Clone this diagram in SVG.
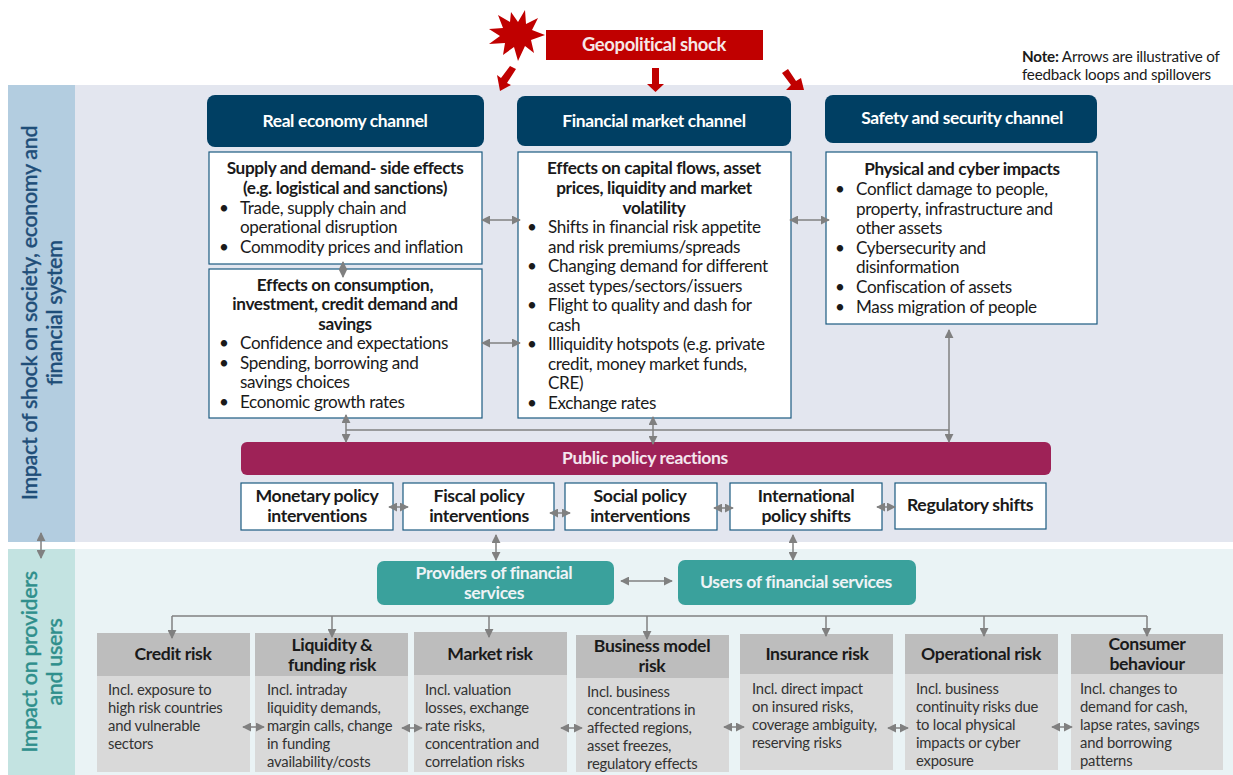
<svg xmlns="http://www.w3.org/2000/svg" width="1233" height="775" viewBox="0 0 1233 775">
<style>
text{font-family:Lato,"Open Sans","Liberation Sans",sans-serif;fill:#1a1a1a;letter-spacing:-.35px}
.c{text-anchor:middle}
.h{font-size:17.4px;font-weight:700;fill:#fff}
.tw{font-size:17.6px;font-weight:700;fill:#eef3f6;text-anchor:middle}
.b{font-size:17.2px;font-weight:700;text-anchor:middle;transform:translateY(.8px)}
.t{font-size:17.1px;transform:translateY(.8px)}
.r{font-size:14.8px;fill:#333;letter-spacing:-.2px}
.rh{font-size:17.6px;font-weight:700;text-anchor:middle}
.pb{font-size:17.7px;font-weight:700;text-anchor:middle}
.n{font-size:15.2px;letter-spacing:-.2px}
.sd{font-size:21.5px;font-weight:500;text-anchor:middle;stroke-width:.35}
.box{fill:#fff;stroke:#1c5b80;stroke-width:1.2}
.ch{fill:#003f63}
.te{fill:#3aa19c}
.hd{fill:#bdbdbd}
.bd{fill:#d9d9d9}
.cn{fill:none;stroke:#808080;stroke-width:1.5}
.dbl{marker-start:url(#ah);marker-end:url(#ah)}
.one{marker-end:url(#ah)}
</style>
<defs>
<marker id="ah" viewBox="0 0 10 10" refX="9" refY="5" markerWidth="6" markerHeight="6" orient="auto-start-reverse"><path d="M0 0L10 5L0 10z" fill="#808080"/></marker>
</defs>
<g id="backgrounds">
<rect x="8" y="85" width="67" height="457" fill="#b3cde0"/>
<rect x="75" y="85" width="1158" height="457" fill="#e3e6ef"/>
<rect x="8" y="549" width="67" height="226" fill="#c3e3e1"/>
<rect x="75" y="549" width="1158" height="226" fill="#eaf3f5"/>
<text transform="translate(37,313) rotate(-90)" class="sd" style="fill:#1f4e79;stroke:#1f4e79">Impact of shock on society, economy and</text>
<text transform="translate(62,313) rotate(-90)" class="sd" style="fill:#1f4e79;stroke:#1f4e79">financial system</text>
<text transform="translate(37,662) rotate(-90)" class="sd" style="fill:#2f8f8c;stroke:#2f8f8c">Impact on providers</text>
<text transform="translate(62,662) rotate(-90)" class="sd" style="fill:#2f8f8c;stroke:#2f8f8c">and users</text>
</g>
<g id="shock">
<path d="M525 10L526 24L538 18L532 30L545 35L531 40L534 53L525 46L518 61L514 47L503 55L505 43L489 44L500 36L489 29L503 28L498 15L510 22L511 12L518 22z" fill="#c00000"/>
<rect x="546" y="30" width="217" height="30" fill="#c00000"/>
<text x="654" y="50.500" class="c" style="font-size:18.4px;font-weight:700;fill:#f6e6e6">Geopolitical shock</text>
</g>
<g id="shock-arrows" fill="#c00000">
<path d="M516 69L507 83L511 85L500 91L497 75L501 78L510 66z"/>
<path d="M652 68H659V84H664L655.500 92L647 84H652z"/>
<path d="M788 69L796 81L801 78L804 90L786 90L791 85L782 73z"/>
</g>
<g id="note"><text x="1022" y="62" class="n"><tspan font-weight="700">Note:</tspan> Arrows are illustrative of</text><text x="1022" y="80" class="n">feedback loops and spillovers</text></g>
<g id="real-economy-channel"><rect class="ch" x="207" y="95" width="277" height="52" rx="8"/><text x="345" y="126.500" class="c h">Real economy channel</text></g>
<g id="financial-market-channel"><rect class="ch" x="517" y="96" width="274" height="50" rx="8"/><text x="654" y="126.500" class="c h">Financial market channel</text></g>
<g id="safety-security-channel"><rect class="ch" x="825" y="95" width="272" height="48" rx="8"/><text x="962" y="124" class="c h">Safety and security channel</text></g>
<g id="supply-demand">
<rect class="box" x="209" y="152" width="273" height="112"/>
<text x="345" y="173" class="b">Supply and demand- side effects</text>
<text x="345" y="193" class="b">(e.g. logistical and sanctions)</text>
<text x="219" y="213" class="t">•</text><text x="240" y="213" class="t">Trade, supply chain and</text>
<text x="240" y="232" class="t">operational disruption</text>
<text x="219" y="252" class="t">•</text><text x="240" y="252" class="t">Commodity prices and inflation</text>
</g>
<g id="consumption-investment">
<rect class="box" x="209" y="269" width="273" height="149"/>
<text x="345" y="290" class="b">Effects on consumption,</text>
<text x="345" y="309" class="b">investment, credit demand and</text>
<text x="345" y="329" class="b">savings</text>
<text x="219" y="348" class="t">•</text><text x="240" y="348" class="t">Confidence and expectations</text>
<text x="219" y="368" class="t">•</text><text x="240" y="368" class="t">Spending, borrowing and</text>
<text x="240" y="387" class="t">savings choices</text>
<text x="219" y="407" class="t">•</text><text x="240" y="407" class="t">Economic growth rates</text>
</g>
<g id="capital-flows">
<rect class="box" x="518" y="152" width="273" height="266"/>
<text x="654" y="173" class="b">Effects on capital flows, asset</text>
<text x="654" y="193" class="b">prices, liquidity and market</text>
<text x="654" y="213" class="b">volatility</text>
<text x="527" y="232" class="t">•</text><text x="548" y="232" class="t">Shifts in financial risk appetite</text>
<text x="548" y="252" class="t">and risk premiums/spreads</text>
<text x="527" y="271" class="t">•</text><text x="548" y="271" class="t">Changing demand for different</text>
<text x="548" y="291" class="t">asset types/sectors/issuers</text>
<text x="527" y="310" class="t">•</text><text x="548" y="310" class="t">Flight to quality and dash for</text>
<text x="548" y="330" class="t">cash</text>
<text x="527" y="349" class="t">•</text><text x="548" y="349" class="t">Illiquidity hotspots (e.g. private</text>
<text x="548" y="369" class="t">credit, money market funds,</text>
<text x="548" y="388" class="t">CRE)</text>
<text x="527" y="408" class="t">•</text><text x="548" y="408" class="t">Exchange rates</text>
</g>
<g id="physical-cyber">
<rect class="box" x="826" y="152" width="271" height="172"/>
<text x="962" y="174" class="b">Physical and cyber impacts</text>
<text x="835" y="194" class="t">•</text><text x="856" y="194" class="t">Conflict damage to people,</text>
<text x="856" y="214" class="t">property, infrastructure and</text>
<text x="856" y="233" class="t">other assets</text>
<text x="835" y="253" class="t">•</text><text x="856" y="253" class="t">Cybersecurity and</text>
<text x="856" y="272" class="t">disinformation</text>
<text x="835" y="292" class="t">•</text><text x="856" y="292" class="t">Confiscation of assets</text>
<text x="835" y="312" class="t">•</text><text x="856" y="312" class="t">Mass migration of people</text>
</g>
<g id="public-policy"><rect x="241" y="442" width="810" height="33" rx="6" fill="#9e2257"/><text x="645" y="464" class="c" style="font-size:17.500px;font-weight:700;fill:#f4e6ee">Public policy reactions</text></g>
<g id="monetary"><rect class="box" x="241" y="483" width="152" height="47"/><text x="317" y="502" class="pb">Monetary policy</text><text x="317" y="522" class="pb">interventions</text></g>
<g id="fiscal"><rect class="box" x="403" y="483" width="151" height="47"/><text x="479" y="502" class="pb">Fiscal policy</text><text x="479" y="522" class="pb">interventions</text></g>
<g id="social"><rect class="box" x="565" y="483" width="152" height="47"/><text x="640" y="502" class="pb">Social policy</text><text x="640" y="522" class="pb">interventions</text></g>
<g id="international"><rect class="box" x="730" y="483" width="152" height="47"/><text x="806" y="502" class="pb">International</text><text x="806" y="522" class="pb">policy shifts</text></g>
<g id="regulatory"><rect class="box" x="895" y="483" width="151" height="46"/><text x="970" y="511" class="pb">Regulatory shifts</text></g>
<g id="providers"><rect class="te" x="377" y="561" width="237" height="44" rx="7"/><text x="494" y="579" class="tw">Providers of financial</text><text x="494" y="599" class="tw">services</text></g>
<g id="users"><rect class="te" x="678" y="560" width="238" height="45" rx="7"/><text x="796" y="588" class="tw">Users of financial services</text></g>
<g id="credit-risk"><rect class="hd" x="97" y="633" width="153" height="43"/><rect class="bd" x="97" y="676" width="153" height="96"/><text x="173" y="660" class="rh">Credit risk</text>
<text x="108" y="695" class="r">Incl. exposure to</text><text x="108" y="713" class="r">high risk countries</text><text x="108" y="731" class="r">and vulnerable</text><text x="108" y="749" class="r">sectors</text></g>
<g id="liquidity-risk"><rect class="hd" x="255" y="633" width="153" height="43"/><rect class="bd" x="255" y="676" width="153" height="96"/><text x="332" y="651" class="rh">Liquidity &amp;</text><text x="332" y="671" class="rh">funding risk</text>
<text x="267" y="695" class="r">Incl. intraday</text><text x="267" y="713" class="r">liquidity demands,</text><text x="267" y="731" class="r">margin calls, change</text><text x="267" y="749" class="r">in funding</text><text x="267" y="767" class="r">availability/costs</text></g>
<g id="market-risk"><rect class="hd" x="414" y="632" width="153" height="43"/><rect class="bd" x="414" y="675" width="153" height="97"/><text x="490" y="660" class="rh">Market risk</text>
<text x="425" y="695" class="r">Incl. valuation</text><text x="425" y="713" class="r">losses, exchange</text><text x="425" y="731" class="r">rate risks,</text><text x="425" y="749" class="r">concentration and</text><text x="425" y="767" class="r">correlation risks</text></g>
<g id="business-model-risk"><rect class="hd" x="576" y="635" width="153" height="43"/><rect class="bd" x="576" y="678" width="153" height="94"/><text x="652" y="652" class="rh">Business model</text><text x="652" y="672" class="rh">risk</text>
<text x="587" y="697" class="r">Incl. business</text><text x="587" y="715" class="r">concentrations in</text><text x="587" y="733" class="r">affected regions,</text><text x="587" y="751" class="r">asset freezes,</text><text x="587" y="769" class="r">regulatory effects</text></g>
<g id="insurance-risk"><rect class="hd" x="740" y="634" width="153" height="40"/><rect class="bd" x="740" y="674" width="153" height="96"/><text x="817" y="660" class="rh">Insurance risk</text>
<text x="752" y="694" class="r">Incl. direct impact</text><text x="752" y="712" class="r">on insured risks,</text><text x="752" y="730" class="r">coverage ambiguity,</text><text x="752" y="748" class="r">reserving risks</text></g>
<g id="operational-risk"><rect class="hd" x="905" y="634" width="153" height="40"/><rect class="bd" x="905" y="674" width="153" height="96"/><text x="981" y="660" class="rh">Operational risk</text>
<text x="916" y="694" class="r">Incl. business</text><text x="916" y="712" class="r">continuity risks due</text><text x="916" y="730" class="r">to local physical</text><text x="916" y="748" class="r">impacts or cyber</text><text x="916" y="766" class="r">exposure</text></g>
<g id="consumer-behaviour"><rect class="hd" x="1071" y="634" width="152" height="40"/><rect class="bd" x="1071" y="674" width="152" height="96"/><text x="1147" y="650" class="rh">Consumer</text><text x="1147" y="670" class="rh">behaviour</text>
<text x="1080" y="694" class="r">Incl. changes to</text><text x="1080" y="712" class="r">demand for cash,</text><text x="1080" y="730" class="r">lapse rates, savings</text><text x="1080" y="748" class="r">and borrowing</text><text x="1080" y="766" class="r">patterns</text></g>
<g id="connectors">
<path class="cn dbl" d="M482 220H520"/><path class="cn dbl" d="M482 343H520"/><path class="cn dbl" d="M790 220H829"/><path class="cn dbl" d="M343 262V277"/>
<path class="cn dbl" d="M346 415V442"/><path class="cn dbl" d="M653 417V444"/><path class="cn dbl" d="M949 330V442"/><path class="cn" d="M346 430H949"/>
<path class="cn dbl" d="M389 507H408"/><path class="cn dbl" d="M550 513H570"/><path class="cn dbl" d="M714 508H733"/><path class="cn dbl" d="M877 507H895"/>
<path class="cn dbl" d="M496 535V560"/><path class="cn dbl" d="M793 535V560"/><path class="cn dbl" d="M621 581H672"/><path class="cn dbl" d="M41 533V558"/>
<path class="cn" d="M172 616H1147"/>
<path class="cn one" d="M172 616V638"/><path class="cn one" d="M332 616V637"/><path class="cn one" d="M489 616V637"/><path class="cn one" d="M647 616V639"/><path class="cn one" d="M826 616V636"/><path class="cn one" d="M984 616V636"/><path class="cn one" d="M1147 616V636"/>
<path class="cn dbl" d="M243 727H264"/><path class="cn dbl" d="M402 728H422"/><path class="cn dbl" d="M561 728H582"/><path class="cn dbl" d="M724 727H744"/><path class="cn dbl" d="M888 728H908"/><path class="cn dbl" d="M1052 727H1072"/>
</g>
</svg>
